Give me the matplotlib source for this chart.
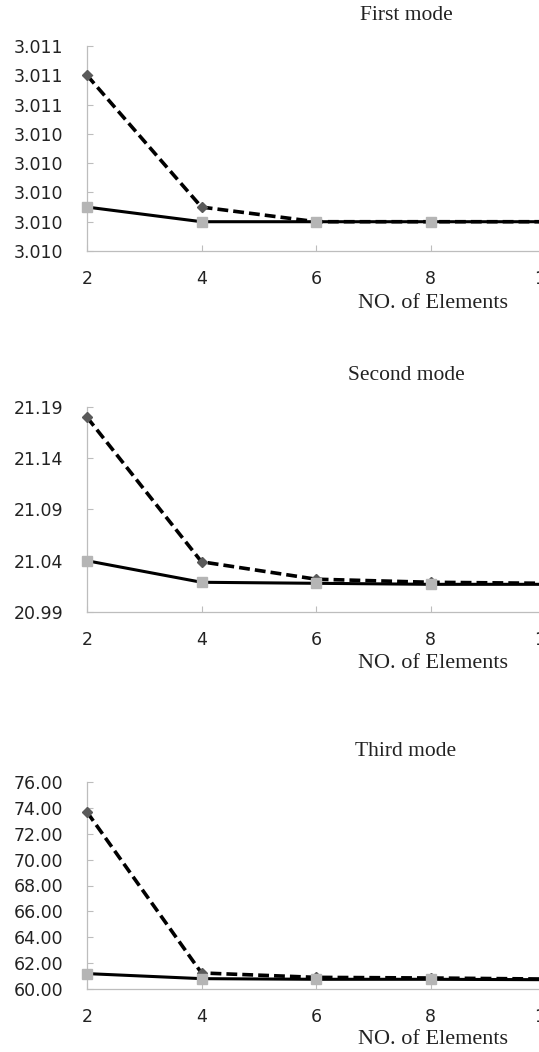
import matplotlib
matplotlib.use('Agg')
import matplotlib.pyplot as plt

# number of elements
n_elements = [2, 4, 6, 8, 10]

# first mode
mode1_dashed = [3.01055, 3.010325, 3.0103, 3.0103, 3.0103]
mode1_solid = [3.010325, 3.0103, 3.0103, 3.0103, 3.0103]
mode1_ticks = [3.01025, 3.0103, 3.01035, 3.0104, 3.01045, 3.0105, 3.01055, 3.0106]
mode1_ticklabels = ['3.010', '3.010', '3.010', '3.010', '3.010', '3.011', '3.011', '3.011']

# second mode
mode2_dashed = [21.180, 21.039, 21.022, 21.019, 21.018]
mode2_solid = [21.040, 21.019, 21.018, 21.017, 21.017]
mode2_ticks = [20.99, 21.04, 21.09, 21.14, 21.19]
mode2_ticklabels = ['20.99', '21.04', '21.09', '21.14', '21.19']

# third mode
mode3_dashed = [73.68, 61.24, 60.90, 60.85, 60.77]
mode3_solid = [61.19, 60.80, 60.75, 60.75, 60.72]
mode3_ticks = [60, 62, 64, 66, 68, 70, 72, 74, 76]
mode3_ticklabels = ['%.2f' % t for t in mode3_ticks]

titles = ['First mode', 'Second mode', 'Third mode']
xlabel = 'NO. of Elements'

W, H = 539, 1052
fig = plt.figure(figsize=(W / 100, H / 100), dpi=100)

# (axes top px, axes bottom px, title y px, xlabel y px)
layout = [(46, 251, 15, 303), (407, 612, 375, 663), (782, 989, 751, 1039)]
panels = [(mode1_dashed, mode1_solid, mode1_ticks, mode1_ticklabels),
          (mode2_dashed, mode2_solid, mode2_ticks, mode2_ticklabels),
          (mode3_dashed, mode3_solid, mode3_ticks, mode3_ticklabels)]

left_px, right_px = 87, 545   # x=2 and x=10 (the last one lies past the edge)
serif = ['Liberation Serif', 'DejaVu Serif']

for (top, bot, ty, xly), (dashed, solid, ticks, labels), title in zip(layout, panels, titles):
    ax = fig.add_axes([left_px / W, 1 - bot / H, (right_px - left_px) / W, (bot - top) / H])

    ax.plot(n_elements, dashed, color='black', lw=2.6, ls=(0, (3, 1.4)),
            marker='D', ms=5.5, mfc='#5a5a5a', mec='#5a5a5a', zorder=3,
            clip_on=False)
    ax.plot(n_elements, solid, color='black', lw=2.2,
            marker='s', ms=7, mfc='#b5b5b5', mec='#b5b5b5', zorder=4,
            clip_on=False)

    ax.set_xlim(2, 10)
    ax.set_ylim(ticks[0], ticks[-1])
    ax.set_xticks(n_elements)
    ax.set_yticks(ticks)
    ax.set_yticklabels(labels)

    for s in ['top', 'right']:
        ax.spines[s].set_visible(False)
    for s in ['left', 'bottom']:
        ax.spines[s].set_color('#bdbdbd')
        ax.spines[s].set_linewidth(0.9)

    ax.tick_params(axis='y', direction='in', length=4, pad=17, color='#bdbdbd',
                   labelsize=12.5, labelcolor='#222222')
    ax.tick_params(axis='x', direction='in', length=4, pad=14, color='#bdbdbd',
                   labelsize=12.5, labelcolor='#222222')
    for lab in ax.get_xticklabels() + ax.get_yticklabels():
        lab.set_fontfamily('DejaVu Sans')

    fig.text(406 / W, 1 - ty / H, title, ha='center', va='center',
             fontsize=15.5, family=serif, color='#222222')
    fig.text(433 / W, 1 - xly / H, xlabel, ha='center', va='center',
             fontsize=16, family=serif, color='#222222')

fig.savefig('out.png', dpi=100)
